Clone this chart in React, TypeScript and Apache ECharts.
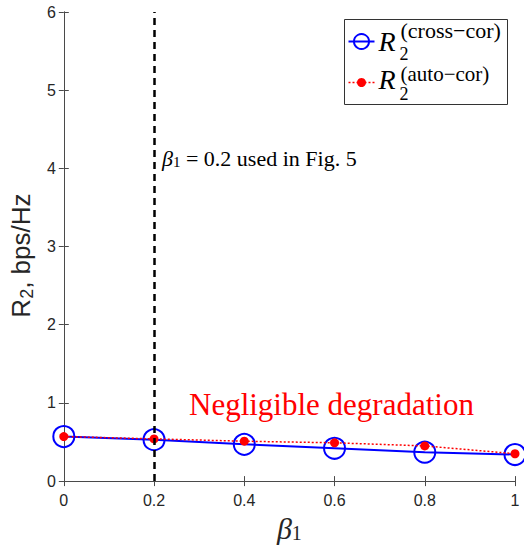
import React, { useEffect, useRef } from "react";
import * as echarts from "echarts";

// ---- data ----
const betaValues = [0, 0.2, 0.4, 0.6, 0.8, 1];
const crossCorRate = [0.57, 0.53, 0.47, 0.42, 0.37, 0.34];
const autoCorRate = [0.57, 0.54, 0.51, 0.49, 0.45, 0.35];
const markedBeta = [0.2];
const xRange = [0, 1];
const xStep = 0.2;
const yRange = [0, 6];
const yStep = 1;
const seriesNames = ["cross-cor", "auto-cor"];
const annotationText = " = 0.2 used in Fig. 5";
const degradationText = "Negligible degradation";

const SERIF = "'Liberation Serif', 'Times New Roman', serif";
const SANS = "'Liberation Sans', Arial, Helvetica, sans-serif";
const AXIS_COLOR = "#4a4a4a";
const TEXT_COLOR = "#262626";

export default function App() {
  const ref = useRef<HTMLDivElement>(null);

  useEffect(() => {
    document.body.style.margin = "0";
    if (!ref.current) return;
    const chart = echarts.init(ref.current, undefined, { renderer: "svg" });

    const tickAxisCommon = {
      axisLine: { show: true, lineStyle: { color: AXIS_COLOR, width: 1 } },
      axisTick: { show: true, inside: true, length: 5, lineStyle: { color: AXIS_COLOR } },
      splitLine: { show: false },
    };

    const option: any = {
      animation: false,
      backgroundColor: "#ffffff",
      grid: { left: 62, right: 9, top: 12, bottom: 60, containLabel: false },
      xAxis: [
        {
          type: "value",
          min: xRange[0],
          max: xRange[1],
          interval: xStep,
          ...tickAxisCommon,
          axisLabel: { color: TEXT_COLOR, fontSize: 16, fontFamily: SANS, margin: 11 },
          name: "{b|β}{s|1}",
          nameLocation: "middle",
          nameGap: 28,
          nameTextStyle: {
            rich: {
              b: { fontSize: 30, fontStyle: "italic", fontFamily: SERIF, color: TEXT_COLOR },
              s: { fontSize: 20, fontFamily: SERIF, color: TEXT_COLOR, padding: [9, 0, 0, 0] },
            },
          },
        },
        {
          type: "value",
          position: "top",
          min: xRange[0],
          max: xRange[1],
          interval: xStep,
          ...tickAxisCommon,
          axisLabel: { show: false },
        },
      ],
      yAxis: [
        {
          type: "value",
          min: yRange[0],
          max: yRange[1],
          interval: yStep,
          ...tickAxisCommon,
          axisLabel: { color: TEXT_COLOR, fontSize: 16, fontFamily: SANS, margin: 8 },
          name: "{r|R}{s|2}{e|, bps/Hz}",
          nameLocation: "middle",
          nameGap: 20,
          nameTextStyle: {
            rich: {
              r: { fontSize: 26, fontFamily: SANS, color: TEXT_COLOR },
              e: { fontSize: 26, fontFamily: SANS, color: TEXT_COLOR, padding: [0, 18, 0, 0] },
              s: { fontSize: 18, fontFamily: SANS, color: TEXT_COLOR, padding: [12, 0, 0, 0] },
            },
          },
        },
        {
          type: "value",
          position: "right",
          min: yRange[0],
          max: yRange[1],
          interval: yStep,
          ...tickAxisCommon,
          axisLabel: { show: false },
        },
      ],
      series: [
        {
          name: seriesNames[0],
          type: "line",
          xAxisIndex: 0,
          yAxisIndex: 0,
          clip: false,
          data: betaValues.map((b, i) => [b, crossCorRate[i]]),
          symbol: "circle",
          symbolSize: 21,
          itemStyle: { color: "rgba(0,0,0,0)", borderColor: "#0000ff", borderWidth: 2 },
          lineStyle: { color: "#0000ff", width: 2 },
          z: 2,
          markLine: {
            silent: true,
            symbol: ["none", "none"],
            label: { show: false },
            lineStyle: { color: "#000000", width: 2.5, type: [7, 5] },
            data: markedBeta.map((v) => ({ xAxis: v })),
          },
        },
        {
          name: seriesNames[1],
          type: "line",
          xAxisIndex: 0,
          yAxisIndex: 0,
          clip: false,
          data: betaValues.map((b, i) => [b, autoCorRate[i]]),
          symbol: "circle",
          symbolSize: 9,
          itemStyle: { color: "#ff0000" },
          lineStyle: { color: "#ff0000", width: 1.5, type: [2, 2] },
          z: 3,
        },
      ],
      graphic: [
        // annotation near dashed line
        {
          type: "text",
          left: 162,
          top: 147,
          style: {
            text: "{b|β}{s|1}{t|" + annotationText + "}",
            rich: {
              b: { fontSize: 22, fontStyle: "italic", fontFamily: SERIF, fill: "#000" },
              s: { fontSize: 15, fontFamily: SERIF, fill: "#000", padding: [8, 0, 0, 0] },
              t: { fontSize: 22, fontFamily: SERIF, fill: "#000" },
            },
          },
        },
        {
          type: "text",
          left: 189,
          top: 389,
          style: {
            text: degradationText,
            fontSize: 31,
            fontFamily: SERIF,
            fill: "#ff0000",
          },
        },
        // legend box
        {
          type: "group",
          left: 344,
          top: 19,
          children: [
            {
              type: "rect",
              shape: { x: 0, y: 0, width: 163, height: 85 },
              style: { fill: "#ffffff", stroke: "#333333", lineWidth: 1 },
            },
            {
              type: "line",
              shape: { x1: 4, y1: 22, x2: 30, y2: 22 },
              style: { stroke: "#0000ff", lineWidth: 2 },
            },
            {
              type: "circle",
              shape: { cx: 17, cy: 22, r: 7.5 },
              style: { fill: "none", stroke: "#0000ff", lineWidth: 2 },
            },
            {
              type: "text",
              x: 34,
              y: 22,
              style: {
                text: "R",
                fontSize: 28,
                fontStyle: "italic",
                fontFamily: SERIF,
                fill: "#000",
                verticalAlign: "middle",
              },
            },
            {
              type: "text",
              x: 55,
              y: 34,
              style: { text: "2", fontSize: 18, fontFamily: SERIF, fill: "#000", verticalAlign: "middle" },
            },
            {
              type: "text",
              x: 56,
              y: 11,
              style: {
                text: "(" + seriesNames[0].replace("-", "−") + ")",
                fontSize: 22,
                fontFamily: SERIF,
                fill: "#000",
                verticalAlign: "middle",
              },
            },
            {
              type: "line",
              shape: { x1: 4, y1: 63, x2: 30, y2: 63 },
              style: { stroke: "#ff0000", lineWidth: 1.5, lineDash: [2, 2] },
            },
            {
              type: "circle",
              shape: { cx: 17, cy: 63, r: 4.5 },
              style: { fill: "#ff0000" },
            },
            {
              type: "text",
              x: 34,
              y: 60,
              style: {
                text: "R",
                fontSize: 28,
                fontStyle: "italic",
                fontFamily: SERIF,
                fill: "#000",
                verticalAlign: "middle",
              },
            },
            {
              type: "text",
              x: 55,
              y: 74,
              style: { text: "2", fontSize: 18, fontFamily: SERIF, fill: "#000", verticalAlign: "middle" },
            },
            {
              type: "text",
              x: 56,
              y: 54,
              style: {
                text: "(" + seriesNames[1].replace("-", "−") + ")",
                fontSize: 21,
                fontFamily: SERIF,
                fill: "#000",
                verticalAlign: "middle",
              },
            },
          ],
        },
      ],
    };

    chart.setOption(option);
    return () => chart.dispose();
  }, []);

  return <div ref={ref} style={{ width: 524, height: 548 }} />;
}
